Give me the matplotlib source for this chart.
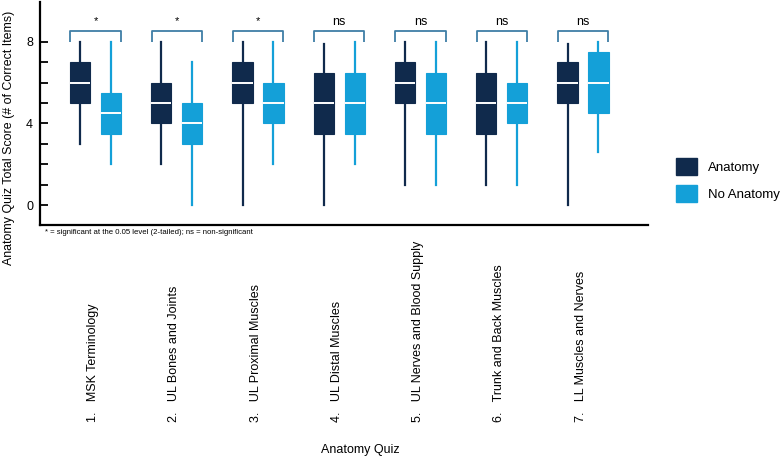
import matplotlib
matplotlib.use("Agg")
import matplotlib.pyplot as plt
import matplotlib.transforms as mtransforms
from matplotlib.patches import Patch

NAVY, SKY, BRACKET = "#102a4c", "#14a0d8", "#3f7ea6"
plt.rcParams["font.family"] = ["Liberation Sans", "DejaVu Sans"]

QUIZZES = ["1.   MSK Terminology", "2.   UL Bones and Joints", "3.   UL Proximal Muscles",
           "4.   UL Distal Muscles", "5.   UL Nerves and Blood Supply",
           "6.   Trunk and Back Muscles", "7.   LL Muscles and Nerves"]
SIG = ["*", "*", "*", "ns", "ns", "ns", "ns"]

# whisker low, Q1, median, Q3, whisker high
ANAT_LO = [3, 2, 0, 0, 1, 1, 0]
ANAT_Q1 = [5, 4, 5, 3.5, 5, 3.5, 5]
ANAT_MED = [6, 5, 6, 5, 6, 5, 6]
ANAT_Q3 = [7, 6, 7, 6.5, 7, 6.5, 7]
ANAT_HI = [8, 8, 8, 7.9, 8, 8, 7.9]

NOAN_LO = [2, 0, 2, 2, 1, 1, 2.6]
NOAN_Q1 = [3.5, 3, 4, 3.5, 3.5, 4, 4.5]
NOAN_MED = [4.5, 4, 5, 5, 5, 5, 6]
NOAN_Q3 = [5.5, 5, 6, 6.5, 6.5, 6, 7.5]
NOAN_HI = [8, 7, 8, 8, 8, 8, 8]


def stats(lo, q1, med, q3, hi):
    return [{"whislo": a, "q1": b, "med": c, "q3": d, "whishi": e, "fliers": []}
            for a, b, c, d, e in zip(lo, q1, med, q3, hi)]


fig = plt.figure(figsize=(7.82, 4.59), dpi=100)
ax = fig.add_axes([40 / 782, 1 - 225 / 459, 608 / 782, 223 / 459])

groups = list(range(1, len(QUIZZES) + 1))
off, w = 0.19, 0.25
for st_, color, sgn in [(stats(ANAT_LO, ANAT_Q1, ANAT_MED, ANAT_Q3, ANAT_HI), NAVY, -1),
                        (stats(NOAN_LO, NOAN_Q1, NOAN_MED, NOAN_Q3, NOAN_HI), SKY, 1)]:
    ax.bxp(st_, positions=[g + sgn * off for g in groups], widths=w, patch_artist=True,
           showcaps=False, showfliers=False,
           boxprops=dict(facecolor=color, edgecolor=color, linewidth=0.8),
           whiskerprops=dict(color=color, linewidth=1.6),
           medianprops=dict(color="white", linewidth=1.4))

# significance brackets
for g, s in zip(groups, SIG):
    ax.plot([g - 0.31, g - 0.31, g + 0.31, g + 0.31], [8.0, 8.54, 8.54, 8.0],
            color=BRACKET, lw=1.3, solid_capstyle="butt")
    ax.text(g, 9.0, s, ha="center", va="center", fontsize=9 if s == "ns" else 8)

ax.set_xlim(0.317, 7.80)
ax.set_ylim(-0.98, 9.96)
ax.set_yticks(range(0, 9))
ax.set_yticklabels(["0", "", "", "", "4", "", "", "", "8"], fontsize=9)
ax.tick_params(axis="y", direction="in", length=5.5, width=1.3, pad=5)
ax.set_xticks([])
for side in ["top", "right"]:
    ax.spines[side].set_visible(False)
for side in ["left", "bottom"]:
    ax.spines[side].set_linewidth(1.6)

# rotated category labels, bottom-aligned below the axis
trans = mtransforms.blended_transform_factory(ax.transData, fig.transFigure)
for g, lab in zip(groups, QUIZZES):
    ax.text(g - 0.03, 1 - 422 / 459, lab, transform=trans, rotation=90,
            ha="center", va="bottom", fontsize=9)

fig.text(9 / 782, 1 - 138 / 459, "Anatomy Quiz Total Score (# of Correct Items)",
         rotation=90, ha="center", va="center", fontsize=8.9)
fig.text(360 / 782, 1 - 450 / 459, "Anatomy Quiz", ha="center", va="center",
         fontsize=9, family=["Liberation Sans Narrow", "Liberation Sans", "DejaVu Sans"])
fig.text(45 / 782, 1 - 232 / 459,
         "* = significant at the 0.05 level (2-tailed); ns = non-significant",
         ha="left", va="center", fontsize=5.6)

handles = [Patch(facecolor=NAVY, edgecolor=NAVY), Patch(facecolor=SKY, edgecolor=SKY)]
fig.legend(handles, ["Anatomy", "No Anatomy"], loc="upper left",
           bbox_to_anchor=(676 / 782, 1 - 158 / 459), frameon=False, fontsize=9.5,
           handlelength=1.6, handleheight=1.6, labelspacing=0.75, handletextpad=0.8,
           borderpad=0, borderaxespad=0)

fig.savefig("out.png", dpi=100)
